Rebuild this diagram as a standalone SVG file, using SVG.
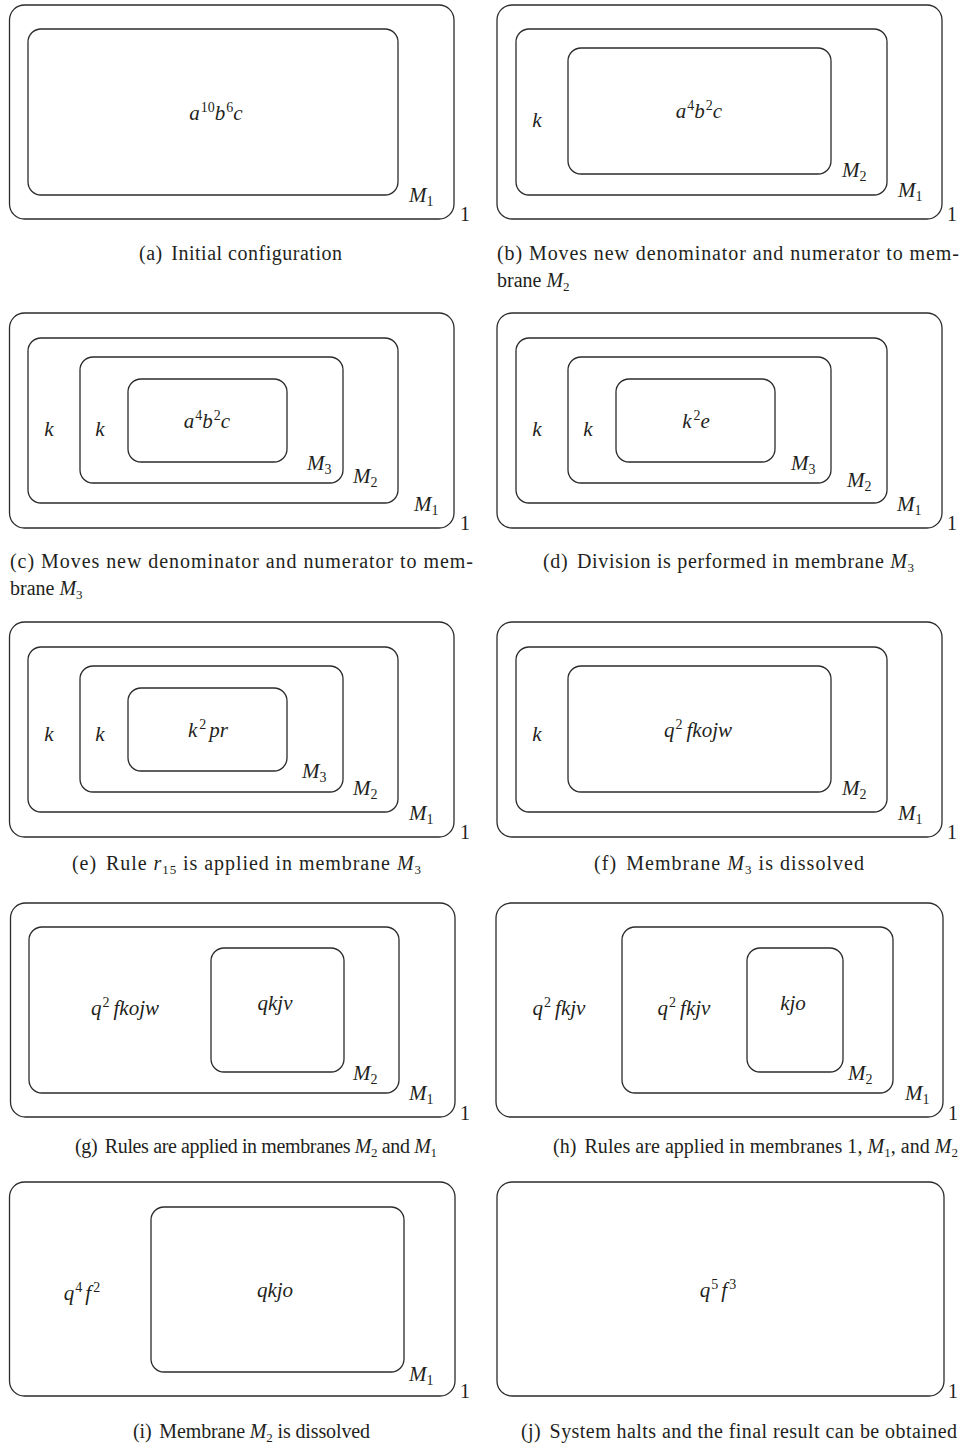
<svg xmlns="http://www.w3.org/2000/svg" width="962" height="1446" viewBox="0 0 962 1446">
<style>
.b{fill:none;stroke:#2b2b2b;stroke-width:1.3}
.m{font-family:"Liberation Serif",serif;font-style:italic;font-size:21px;fill:#231f20}
.n{font-style:normal;font-size:14px}
.u{font-family:"Liberation Serif",serif;font-size:20px;fill:#231f20}
.c{font-family:"Liberation Serif",serif;font-size:20px;fill:#231f20}
.s{font-size:13px}
</style>
<rect width="962" height="1446" fill="#fff"/>
<g id="connectors"/>

<!-- (a) -->
<g id="panel-a">
  <g id="a-mem1"><rect class="b" x="9.5" y="5" width="444.5" height="214" rx="15"/><text class="u" x="460" y="221">1</text></g>
  <g id="a-memM1"><rect class="b" x="28" y="29" width="370" height="166" rx="13"/><text class="m" x="409" y="202">M<tspan class="n" dy="4">1</tspan></text></g>
  <text class="m" x="216" y="120" text-anchor="middle">a<tspan class="n" dy="-8" dx="1">10</tspan><tspan dy="8">b</tspan><tspan class="n" dy="-8" dx="1">6</tspan><tspan dy="8">c</tspan></text>
  <text class="c" x="139" y="260" textLength="203" lengthAdjust="spacing">(a) <tspan dx="3">Initial configuration</tspan></text>
</g>

<!-- (b) -->
<g id="panel-b">
  <g id="b-mem1"><rect class="b" x="497" y="5" width="445" height="214" rx="15"/><text class="u" x="947" y="221">1</text></g>
  <g id="b-memM1"><rect class="b" x="516" y="29" width="371" height="166" rx="13"/><text class="m" x="898" y="197">M<tspan class="n" dy="4">1</tspan></text></g>
  <g id="b-memM2"><rect class="b" x="568" y="48" width="263" height="126" rx="13"/><text class="m" x="842" y="177">M<tspan class="n" dy="4">2</tspan></text></g>
  <text class="m" x="537" y="127" text-anchor="middle">k</text>
  <text class="m" x="699" y="118" text-anchor="middle">a<tspan class="n" dy="-8" dx="1">4</tspan><tspan dy="8">b</tspan><tspan class="n" dy="-8" dx="1">2</tspan><tspan dy="8">c</tspan></text>
  <text class="c" x="497" y="260" textLength="462" lengthAdjust="spacing">(b)  Moves new denominator and numerator to mem-</text>
  <text class="c" x="497" y="287">brane <tspan font-style="italic">M</tspan><tspan class="s" dy="4">2</tspan></text>
</g>

<!-- (c) -->
<g id="panel-c">
  <g id="c-mem1"><rect class="b" x="9.5" y="313" width="444.5" height="215" rx="15"/><text class="u" x="460" y="530">1</text></g>
  <g id="c-memM1"><rect class="b" x="28" y="338" width="370" height="165" rx="13"/><text class="m" x="414" y="511">M<tspan class="n" dy="4">1</tspan></text></g>
  <g id="c-memM2"><rect class="b" x="80" y="357" width="263" height="126" rx="13"/><text class="m" x="353" y="483">M<tspan class="n" dy="4">2</tspan></text></g>
  <g id="c-memM3"><rect class="b" x="128" y="379" width="159" height="83" rx="13"/><text class="m" x="307" y="470">M<tspan class="n" dy="4">3</tspan></text></g>
  <text class="m" x="49" y="436" text-anchor="middle">k</text>
  <text class="m" x="100" y="436" text-anchor="middle">k</text>
  <text class="m" x="207" y="428" text-anchor="middle">a<tspan class="n" dy="-8" dx="1">4</tspan><tspan dy="8">b</tspan><tspan class="n" dy="-8" dx="1">2</tspan><tspan dy="8">c</tspan></text>
  <text class="c" x="10" y="568" textLength="463" lengthAdjust="spacing">(c)  Moves new denominator and numerator to mem-</text>
  <text class="c" x="10" y="595">brane <tspan font-style="italic">M</tspan><tspan class="s" dy="4">3</tspan></text>
</g>

<!-- (d) -->
<g id="panel-d">
  <g id="d-mem1"><rect class="b" x="497" y="313" width="445" height="215" rx="15"/><text class="u" x="947" y="530">1</text></g>
  <g id="d-memM1"><rect class="b" x="516" y="338" width="371" height="165" rx="13"/><text class="m" x="897" y="511">M<tspan class="n" dy="4">1</tspan></text></g>
  <g id="d-memM2"><rect class="b" x="568" y="357" width="263" height="126" rx="13"/><text class="m" x="847" y="487">M<tspan class="n" dy="4">2</tspan></text></g>
  <g id="d-memM3"><rect class="b" x="616" y="379" width="159" height="83" rx="13"/><text class="m" x="791" y="470">M<tspan class="n" dy="4">3</tspan></text></g>
  <text class="m" x="537" y="436" text-anchor="middle">k</text>
  <text class="m" x="588" y="436" text-anchor="middle">k</text>
  <text class="m" x="696" y="428" text-anchor="middle">k<tspan class="n" dy="-8" dx="2">2</tspan><tspan dy="8">e</tspan></text>
  <text class="c" x="543" y="568" textLength="371" lengthAdjust="spacing">(d) <tspan dx="3">Division is performed in membrane </tspan><tspan font-style="italic">M</tspan><tspan class="s" dy="4">3</tspan></text>
</g>

<!-- (e) -->
<g id="panel-e">
  <g id="e-mem1"><rect class="b" x="9.5" y="622" width="444.5" height="215" rx="15"/><text class="u" x="460" y="839">1</text></g>
  <g id="e-memM1"><rect class="b" x="28" y="647" width="370" height="165" rx="13"/><text class="m" x="409" y="820">M<tspan class="n" dy="4">1</tspan></text></g>
  <g id="e-memM2"><rect class="b" x="80" y="666" width="263" height="126" rx="13"/><text class="m" x="353" y="795">M<tspan class="n" dy="4">2</tspan></text></g>
  <g id="e-memM3"><rect class="b" x="128" y="688" width="159" height="83" rx="13"/><text class="m" x="302" y="778">M<tspan class="n" dy="4">3</tspan></text></g>
  <text class="m" x="49" y="741" text-anchor="middle">k</text>
  <text class="m" x="100" y="741" text-anchor="middle">k</text>
  <text class="m" x="208" y="737" text-anchor="middle">k<tspan class="n" dy="-8" dx="2">2</tspan><tspan dy="8" dx="3">pr</tspan></text>
  <text class="c" x="72" y="870" textLength="349" lengthAdjust="spacing">(e) <tspan dx="3">Rule </tspan><tspan font-style="italic">r</tspan><tspan class="s" dy="4">15</tspan><tspan dy="-4"> is applied in membrane </tspan><tspan font-style="italic">M</tspan><tspan class="s" dy="4">3</tspan></text>
</g>

<!-- (f) -->
<g id="panel-f">
  <g id="f-mem1"><rect class="b" x="497" y="622" width="445" height="215" rx="15"/><text class="u" x="947" y="839">1</text></g>
  <g id="f-memM1"><rect class="b" x="516" y="647" width="371" height="165" rx="13"/><text class="m" x="898" y="820">M<tspan class="n" dy="4">1</tspan></text></g>
  <g id="f-memM2"><rect class="b" x="568" y="666" width="263" height="126" rx="13"/><text class="m" x="842" y="795">M<tspan class="n" dy="4">2</tspan></text></g>
  <text class="m" x="537" y="741" text-anchor="middle">k</text>
  <text class="m" x="698" y="737" text-anchor="middle">q<tspan class="n" dy="-8" dx="1">2</tspan><tspan dy="8" dx="4">fkojw</tspan></text>
  <text class="c" x="594" y="870" textLength="270" lengthAdjust="spacing">(f) <tspan dx="3">Membrane </tspan><tspan font-style="italic">M</tspan><tspan class="s" dy="4">3</tspan><tspan dy="-4"> is dissolved</tspan></text>
</g>

<!-- (g) -->
<g id="panel-g">
  <g id="g-mem1"><rect class="b" x="10.5" y="903" width="444.5" height="214" rx="15"/><text class="u" x="460" y="1120">1</text></g>
  <g id="g-memM1"><rect class="b" x="29" y="927" width="370" height="166" rx="13"/><text class="m" x="409" y="1100">M<tspan class="n" dy="4">1</tspan></text></g>
  <g id="g-memM2"><rect class="b" x="211" y="948" width="133" height="124" rx="13"/><text class="m" x="353" y="1080">M<tspan class="n" dy="4">2</tspan></text></g>
  <text class="m" x="125" y="1015" text-anchor="middle">q<tspan class="n" dy="-8" dx="1">2</tspan><tspan dy="8" dx="4">fkojw</tspan></text>
  <text class="m" x="275" y="1010" text-anchor="middle">qkjv</text>
  <text class="c" x="75" y="1153" textLength="362" lengthAdjust="spacing">(g) <tspan dx="3">Rules are applied in membranes </tspan><tspan font-style="italic">M</tspan><tspan class="s" dy="4">2</tspan><tspan dy="-4"> and </tspan><tspan font-style="italic">M</tspan><tspan class="s" dy="4">1</tspan></text>
</g>

<!-- (h) -->
<g id="panel-h">
  <g id="h-mem1"><rect class="b" x="496" y="903" width="447" height="214" rx="15"/><text class="u" x="948" y="1120">1</text></g>
  <g id="h-memM1"><rect class="b" x="622" y="927" width="271" height="166" rx="13"/><text class="m" x="905" y="1100">M<tspan class="n" dy="4">1</tspan></text></g>
  <g id="h-memM2"><rect class="b" x="747" y="948" width="96" height="124" rx="13"/><text class="m" x="848" y="1080">M<tspan class="n" dy="4">2</tspan></text></g>
  <text class="m" x="559" y="1015" text-anchor="middle">q<tspan class="n" dy="-8" dx="1">2</tspan><tspan dy="8" dx="4">fkjv</tspan></text>
  <text class="m" x="684" y="1015" text-anchor="middle">q<tspan class="n" dy="-8" dx="1">2</tspan><tspan dy="8" dx="4">fkjv</tspan></text>
  <text class="m" x="793" y="1010" text-anchor="middle">kjo</text>
  <text class="c" x="553" y="1153" textLength="405" lengthAdjust="spacing">(h) <tspan dx="3">Rules are applied in membranes 1, </tspan><tspan font-style="italic">M</tspan><tspan class="s" dy="4">1</tspan><tspan dy="-4">, and </tspan><tspan font-style="italic">M</tspan><tspan class="s" dy="4">2</tspan></text>
</g>

<!-- (i) -->
<g id="panel-i">
  <g id="i-mem1"><rect class="b" x="9.5" y="1182" width="445.5" height="214" rx="15"/><text class="u" x="460" y="1398">1</text></g>
  <g id="i-memM1"><rect class="b" x="151" y="1207" width="253" height="165" rx="13"/><text class="m" x="409" y="1381">M<tspan class="n" dy="4">1</tspan></text></g>
  <text class="m" x="82" y="1300" text-anchor="middle">q<tspan class="n" dy="-8" dx="1">4</tspan><tspan dy="8" dx="3">f</tspan><tspan class="n" dy="-8" dx="2">2</tspan></text>
  <text class="m" x="275" y="1297" text-anchor="middle">qkjo</text>
  <text class="c" x="133" y="1438" textLength="237" lengthAdjust="spacing">(i) <tspan dx="3">Membrane </tspan><tspan font-style="italic">M</tspan><tspan class="s" dy="4">2</tspan><tspan dy="-4"> is dissolved</tspan></text>
</g>

<!-- (j) -->
<g id="panel-j">
  <g id="j-mem1"><rect class="b" x="497" y="1182" width="447" height="214" rx="15"/><text class="u" x="948" y="1398">1</text></g>
  <text class="m" x="718" y="1297" text-anchor="middle">q<tspan class="n" dy="-8" dx="1">5</tspan><tspan dy="8" dx="3">f</tspan><tspan class="n" dy="-8" dx="2">3</tspan></text>
  <text class="c" x="521" y="1438" textLength="436" lengthAdjust="spacing">(j) <tspan dx="3">System halts and the final result can be obtained</tspan></text>
</g>
</svg>
